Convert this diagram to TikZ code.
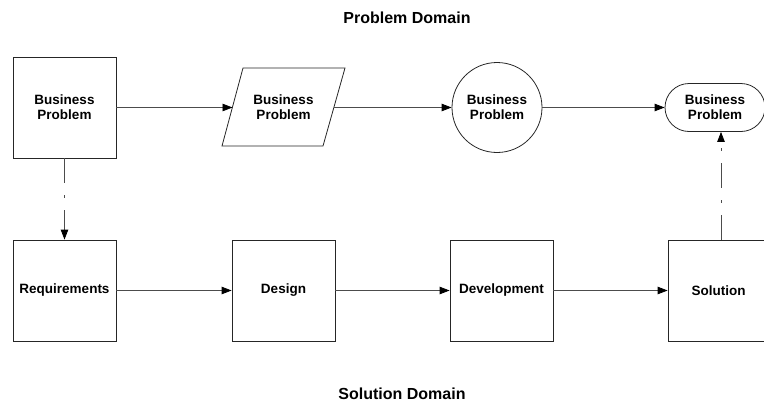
\documentclass[tikz,border=0pt]{standalone}
\usepackage{fontspec}
\setmainfont{Liberation Sans}
\usetikzlibrary{arrows.meta}
\begin{document}
\begin{tikzpicture}[x=1pt,y=-1pt,
  lbl/.style={font=\bfseries\fontsize{13.5}{15}\selectfont, align=center, inner sep=0pt},
  title/.style={font=\bfseries\fontsize{16}{18}\selectfont, inner sep=0pt},
  boxnode/.style={draw=black!85, line width=0.8pt, minimum width=103pt, minimum height=101pt, inner sep=0pt},
  link/.style={draw=black!70, line width=0.8pt, -{Triangle[length=10pt,width=7.5pt,color=black]}},
  dashdot link/.style={link, dash pattern=on 25pt off 12pt on 3pt off 12pt}]
\useasboundingbox (0,0) rectangle (764,402);
\clip (0,0) rectangle (764,402);

% titles
\node[title] (tprob) at (407,18) {Problem Domain};
\node[title] (tsol) at (402,394) {Solution Domain};

% problem domain row
\node[boxnode, lbl] (bp) at (64.5,107.5) {Business\\Problem};
\draw[draw=black!85, line width=0.8pt] (243,68) -- (345,68) -- (323,146) -- (222,146) -- cycle;
\node[lbl] (para) at (283.5,107.5) {Business\\Problem};
\coordinate (paraL) at (232.5,107.5);
\coordinate (paraR) at (334,107.5);
\node[draw=black!85, line width=0.8pt, circle, minimum size=90pt, lbl] (circ) at (497,107.5) {Business\\Problem};
\node[draw=black!85, line width=0.8pt, rounded corners=24pt, minimum width=100pt, minimum height=48pt, lbl] (term) at (715,107.5) {Business\\Problem};

% solution domain row
\node[boxnode, lbl] (req) at (64.5,290.5) {Requirements};
\node[boxnode, lbl] (des) at (283.5,290.5) {Design};
\node[boxnode, lbl] (dev) at (501.5,290.5) {Development};
\node[boxnode, lbl, minimum width=112pt] (sol) at (724,290.5) {\hspace*{-11pt}Solution};

% connectors
\draw[link] (bp.east) -- (paraL);
\draw[link] (paraR) -- (circ.west);
\draw[link] (circ.east) -- (term.west);
\draw[link] (req.east) -- (des.west);
\draw[link] (des.east) -- (dev.west);
\draw[link] (dev.east) -- (sol.west);
\draw[dashdot link] (bp.south) -- (req.north);
\draw[dashdot link] (sol.north -| 721,0) -- (term.south -| 721,0);
\end{tikzpicture}
\end{document}
